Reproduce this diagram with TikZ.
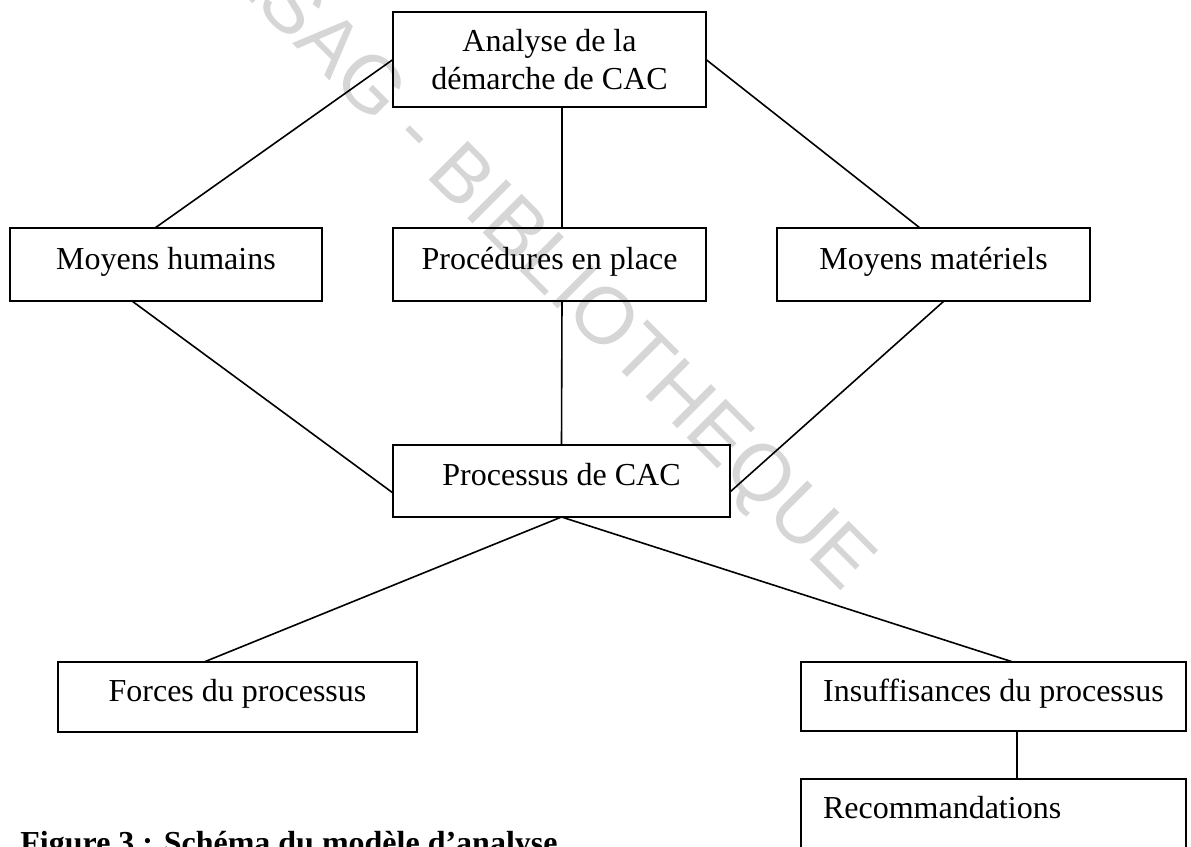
\documentclass[tikz,border=0pt]{standalone}
\usepackage{fontspec}
\setmainfont{Liberation Serif}
\newfontfamily\wmfont{Liberation Sans}
\begin{document}
\begin{tikzpicture}[x=0.5pt,y=-0.5pt,
  frame/.style={draw, line width=1pt, inner sep=0pt, outer sep=0pt,
    font=\fontsize{16}{19}\selectfont},
  onebox/.style={frame, text height=10.5pt, text depth=6pt},
  link/.style={line width=0.8pt},
  watermark/.style={font=\wmfont\fontsize{40}{48}\selectfont, text=black!16,
    rotate=-45, inner sep=0pt}]
\useasboundingbox (0,0) rectangle (1191,847);
\clip (0,0) rectangle (1191,847);

% library stamp behind the diagram
\node[watermark] (wm) at (524,246) {CESAG - BIBLIOTHEQUE};

% boxes
\node[frame, align=center, minimum width=156.5pt, minimum height=47.5pt]
  (A) at (549.5,59.5) {Analyse de la\\démarche de CAC};
\node[onebox, minimum width=156pt, minimum height=36.5pt]
  (MH) at (166,264.5) {Moyens humains};
\node[onebox, minimum width=156.5pt, minimum height=36.5pt]
  (PP) at (549.5,264.5) {Procédures en place};
\node[onebox, minimum width=156.5pt, minimum height=36.5pt]
  (MM) at (933.5,264.5) {Moyens matériels};
\node[onebox, minimum width=168.5pt, minimum height=36pt]
  (PC) at (561.5,481) {Processus de CAC};
\node[onebox, minimum width=179.5pt, minimum height=35pt]
  (FP) at (237.5,697) {Forces du processus};
\node[onebox, minimum width=192.5pt, minimum height=34.5pt]
  (IP) at (993.5,696.5) {Insuffisances du processus};
\node[onebox, inner xsep=11pt, text width=170.5pt, align=left, minimum height=35pt]
  (RC) at (993.5,814) {Recommandations};

% connectors
\draw[link] (A.west) -- ([xshift=-5.5pt]MH.north);
\draw[link] ([xshift=6.25pt]A.south) -- ([xshift=6.25pt]PP.north);
\draw[link] (A.east) -- ([xshift=-6.75pt]MM.north);
\draw[link] ([xshift=-17pt]MH.south) -- ([yshift=-6pt]PC.west);
\draw[link] ([xshift=6.25pt]PP.south) -- (PC.north);
\draw[link] ([xshift=5.25pt]MM.south) -- ([yshift=-5.5pt]PC.east);
\draw[link] (PC.south) -- ([xshift=-16.75pt]FP.north);
\draw[link] (PC.south) -- ([xshift=9.75pt]IP.north);
\draw[link] ([xshift=11.75pt]IP.south) -- ([xshift=11.75pt]RC.north);

% caption
\node[font=\bfseries\fontsize{16}{19}\selectfont, anchor=base west, inner sep=0pt]
  (cap) at (20,853) {Figure 3 : Schéma du modèle d’analyse};
\end{tikzpicture}
\end{document}
